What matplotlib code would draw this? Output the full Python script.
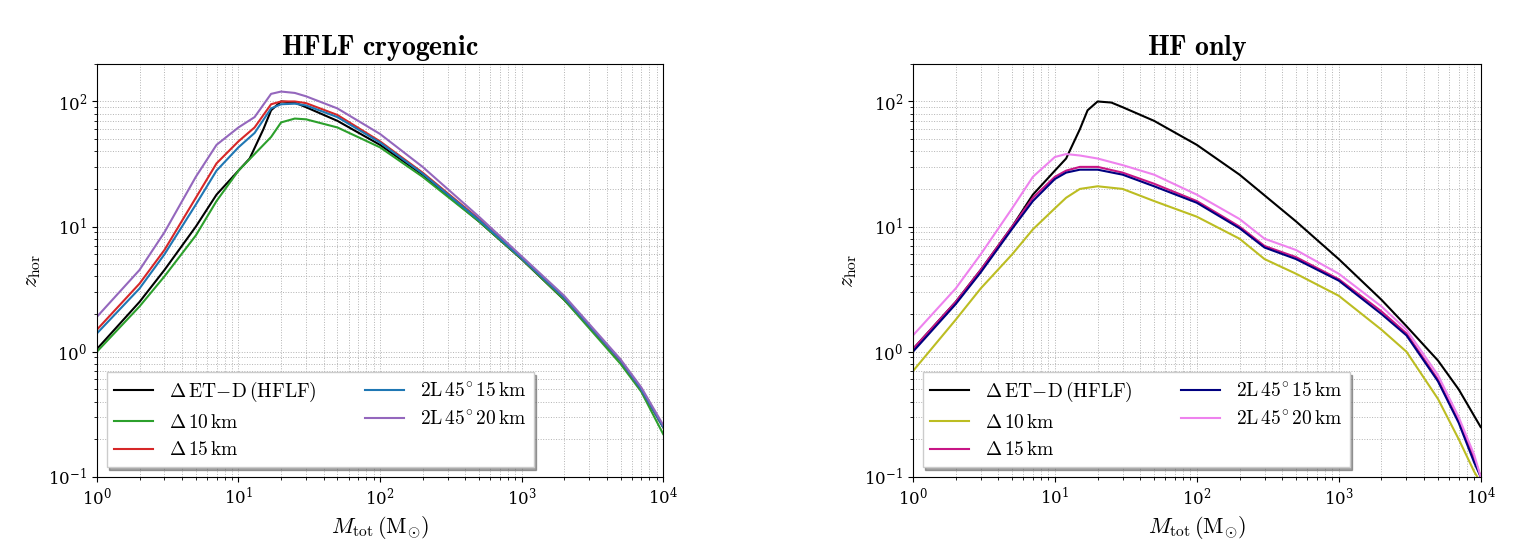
import matplotlib.pyplot as plt
import numpy as np

plt.rcParams['mathtext.fontset'] = 'cm'
plt.rcParams['font.family'] = 'DejaVu Serif'
plt.rcParams['axes.formatter.use_mathtext'] = True

# Black ET-D (HFLF) reference curve, same in both panels
m_etd = [1, 2, 3, 5, 7, 10, 12, 15, 17, 20, 25, 30, 50, 100, 200, 500, 1000, 2000, 3000, 5000, 7000, 10000]
z_etd = [1.05, 2.5, 4.5, 10, 18, 28, 35, 60, 85, 100, 98, 90, 70, 45, 26, 11, 5.5, 2.6, 1.6, 0.85, 0.5, 0.25]

# Left panel: HFLF cryogenic
m_l = [1, 2, 3, 5, 7, 10, 13, 17, 20, 25, 30, 50, 100, 200, 500, 1000, 2000, 5000, 7000, 10000]
z_d10 = [1.0, 2.3, 4.0, 8.5, 16, 28, 38, 52, 68, 73, 72, 62, 43, 25, 11, 5.5, 2.6, 0.8, 0.48, 0.22]
z_d15 = [1.5, 3.5, 6.5, 17, 32, 48, 62, 95, 100, 100, 97, 78, 48, 27, 11.5, 5.6, 2.7, 0.85, 0.5, 0.25]
z_2l15 = [1.4, 3.2, 6.0, 15, 28, 43, 56, 88, 95, 96, 93, 75, 47, 26.5, 11.3, 5.6, 2.7, 0.85, 0.5, 0.25]
z_2l20 = [1.9, 4.5, 9.0, 25, 45, 62, 75, 115, 120, 117, 110, 88, 55, 30, 12, 5.8, 2.8, 0.87, 0.52, 0.26]

# Right panel: HF only
m_r = [1, 2, 3, 5, 7, 10, 12, 15, 20, 30, 50, 100, 200, 300, 500, 1000, 2000, 3000, 5000, 7000, 9000, 10000]
zr_d10 = [0.7, 1.8, 3.2, 6.0, 9.5, 14, 17, 20, 21, 20, 16, 12, 8, 5.5, 4.2, 2.8, 1.5, 1.0, 0.42, 0.2, 0.11, 0.09]
zr_d15 = [1.05, 2.5, 4.5, 10, 17, 25, 28, 30, 30, 27, 22, 16, 10, 7, 5.7, 3.8, 2.1, 1.4, 0.6, 0.28, 0.14, 0.1]
zr_2l15 = [1.0, 2.4, 4.3, 9.6, 16, 24, 27, 28.5, 28.5, 26, 21, 15.5, 9.7, 6.8, 5.5, 3.7, 2.0, 1.35, 0.58, 0.27, 0.13, 0.1]
zr_2l20 = [1.35, 3.2, 6.0, 14, 25, 36, 38, 37, 35, 31, 26, 18, 11.5, 8, 6.5, 4.2, 2.3, 1.5, 0.65, 0.3, 0.15, 0.1]

labels = [r'$\Delta\,\mathrm{ET\!-\!D\,(HFLF)}$', r'$\Delta\,10\,\mathrm{km}$', r'$\Delta\,15\,\mathrm{km}$',
          r'$\mathrm{2L}\,45^{\circ}\,15\,\mathrm{km}$', r'$\mathrm{2L}\,45^{\circ}\,20\,\mathrm{km}$']

fig = plt.figure(figsize=(15.14, 5.5), dpi=100)
ax1 = fig.add_axes([0.064, 0.133, 0.374, 0.751])
ax2 = fig.add_axes([0.603, 0.133, 0.375, 0.751])

ax1.plot(m_etd, z_etd, color='black', label=labels[0])
ax1.plot(m_l, z_d10, color='tab:green', label=labels[1])
ax1.plot(m_l, z_d15, color='tab:red', label=labels[2])
ax1.plot(m_l, z_2l15, color='tab:blue', label=labels[3])
ax1.plot(m_l, z_2l20, color='tab:purple', label=labels[4])
ax1.set_title(r'$\mathbf{HFLF\ cryogenic}$', fontsize=20)

ax2.plot(m_etd, z_etd, color='black', label=labels[0])
ax2.plot(m_r, zr_d10, color='tab:olive', label=labels[1])
ax2.plot(m_r, zr_d15, color='mediumvioletred', label=labels[2])
ax2.plot(m_r, zr_2l15, color='navy', label=labels[3])
ax2.plot(m_r, zr_2l20, color='violet', label=labels[4])
ax2.set_title(r'$\mathbf{HF\ only}$', fontsize=20)

for ax in (ax1, ax2):
    ax.set_xscale('log')
    ax.set_yscale('log')
    ax.set_xlim(1, 1e4)
    ax.set_ylim(0.1, 200)
    ax.grid(True, which='both', linestyle=':', linewidth=0.7, color='0.7')
    ax.set_xlabel(r'$M_{\rm tot}\,(\mathrm{M}_{\odot})$', fontsize=16)
    ax.set_ylabel(r'$z_{\rm hor}$', fontsize=16)
    ax.tick_params(labelsize=12)
    ax.legend(loc='lower left', ncol=2, fontsize=14, shadow=True, fancybox=False,
              framealpha=1, columnspacing=2.5)

plt.savefig('out.png')
